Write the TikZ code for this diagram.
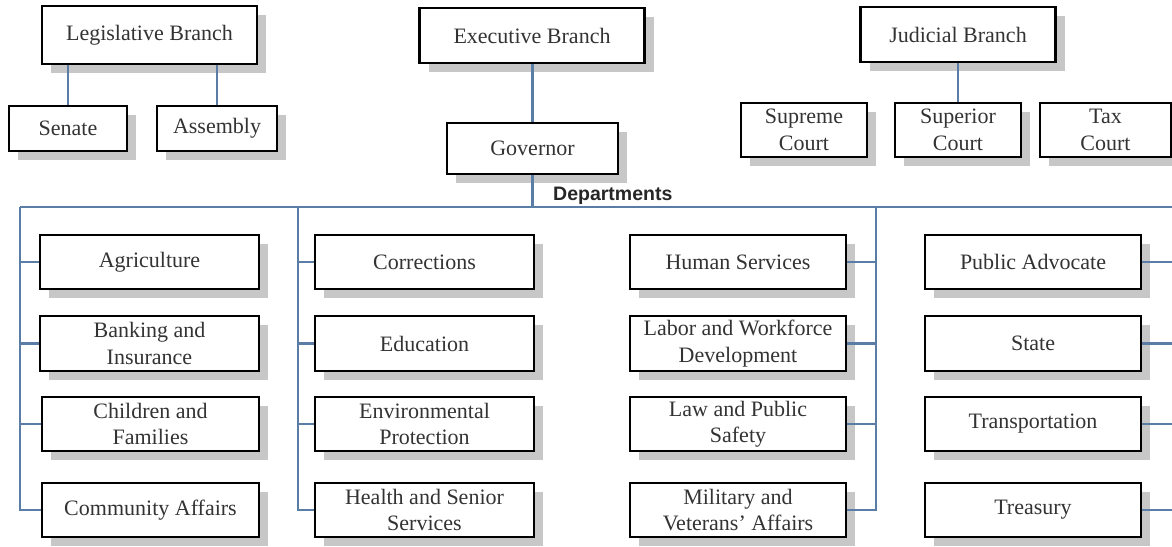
\documentclass[tikz,border=0pt]{standalone}
\usepackage{fontspec}
\setmainfont{Liberation Serif}
\newfontfamily\depfont{Liberation Sans}
\usetikzlibrary{shadows}
\definecolor{conncol}{HTML}{5A7DA6}
\definecolor{txtcol}{HTML}{333333}
\tikzset{
  box/.style={draw=black, line width=1.9pt, fill=white, inner sep=0pt, align=center,
    text=txtcol, font=\fontsize{22}{26.5}\selectfont,
    drop shadow={shadow xshift=9pt, shadow yshift=-9pt, fill=black!22, opacity=1}},
  topbox/.style={box, line width=2.4pt},
  conn/.style={draw=conncol, line width=2.2pt},
}
\begin{document}
\begin{tikzpicture}[x=1pt,y=-1pt]
\useasboundingbox (0,0) rectangle (1172,546);
\coordinate (busL) at (20,207);
\coordinate (busR) at (1172,207);
\coordinate (v2) at (298,207);
\coordinate (v3) at (876,207);
\coordinate (edge) at (1172,207);

% top level
\node[topbox, minimum width=215pt, minimum height=58pt] (leg) at (149.5,35) {Legislative Branch};
\node[topbox, minimum width=118pt, minimum height=45pt] (sen) at (68,128.5) {Senate};
\node[topbox, minimum width=120pt, minimum height=45pt] (asm) at (217,128.5) {Assembly};
\node[topbox, minimum width=225pt, minimum height=55pt] (exe) at (532,35.5) {Executive Branch};
\node[topbox, minimum width=171pt, minimum height=51pt] (gov) at (532.5,148.5) {Governor};
\node[topbox, minimum width=195pt, minimum height=55pt] (jud) at (958,34.5) {Judicial Branch};
\node[box, minimum width=126pt, minimum height=54pt] (sup) at (804,130) {Supreme\\Court};
\node[box, minimum width=126pt, minimum height=54pt] (spr) at (958,130) {Superior\\Court};
\node[box, minimum width=131pt, minimum height=54pt] (tax) at (1105.5,130) {Tax\\Court};

\draw[conn] (sen.north) -- (sen.north |- leg.south);
\draw[conn] (asm.north) -- (asm.north |- leg.south);
\draw[conn] (gov.north) -- (gov.north |- exe.south);
\draw[conn] (spr.north) -- (spr.north |- jud.south);
\draw[conn] (gov.south) -- (gov.south |- busL);
\draw[conn] (busL) -- (busR);

\node[anchor=base west, font=\depfont\bfseries\fontsize{19.5}{22}\selectfont, text=black!85, inner sep=0pt] (dep) at (553,200) {Departments};

% column 1
\node[box, minimum width=219pt, minimum height=54pt] (agr) at (149.5,262) {Agriculture};
\node[box, minimum width=219pt, minimum height=55pt] (bank) at (149.5,343.5) {Banking and\\Insurance};
\node[box, minimum width=217pt, minimum height=54pt] (chil) at (150.5,424) {Children and\\Families};
\node[box, minimum width=217pt, minimum height=54pt] (comm) at (150.5,510) {Community Affairs};
% column 2
\node[box, minimum width=219pt, minimum height=54pt] (corr) at (424.5,262) {Corrections};
\node[box, minimum width=219pt, minimum height=55pt] (educ) at (424.5,343.5) {Education};
\node[box, minimum width=219pt, minimum height=54pt] (env) at (424.5,424) {Environmental\\Protection};
\node[box, minimum width=219pt, minimum height=54pt] (hlth) at (424.5,510) {Health and Senior\\Services};
% column 3
\node[box, minimum width=216pt, minimum height=54pt] (hum) at (738,262) {Human Services};
\node[box, minimum width=216pt, minimum height=55pt] (lab) at (738,343.5) {Labor and Workforce\\Development};
\node[box, minimum width=216pt, minimum height=54pt] (law) at (738,424) {Law and Public\\Safety};
\node[box, minimum width=216pt, minimum height=54pt] (mil) at (738,510) {Military and\\Veterans' Affairs};
% column 4
\node[box, minimum width=216pt, minimum height=54pt] (pub) at (1033,262) {Public Advocate};
\node[box, minimum width=216pt, minimum height=55pt] (sta) at (1033,343.5) {State};
\node[box, minimum width=216pt, minimum height=54pt] (tra) at (1033,424) {Transportation};
\node[box, minimum width=216pt, minimum height=54pt] (trs) at (1033,510) {Treasury};

% column 1 connectors
\draw[conn] (busL) |- (comm.west);
\foreach \n in {agr,bank,chil} \draw[conn] (\n.west) -- (\n.west -| busL);
% column 2
\draw[conn] (v2) |- (hlth.west);
\foreach \n in {corr,educ,env} \draw[conn] (\n.west) -- (\n.west -| v2);
% column 3
\draw[conn] (v3) |- (mil.east);
\foreach \n in {hum,lab,law} \draw[conn] (\n.east) -- (\n.east -| v3);
% column 4
\foreach \n in {pub,sta,tra,trs} \draw[conn] (\n.east) -- (\n.east -| edge);
\end{tikzpicture}
\end{document}
